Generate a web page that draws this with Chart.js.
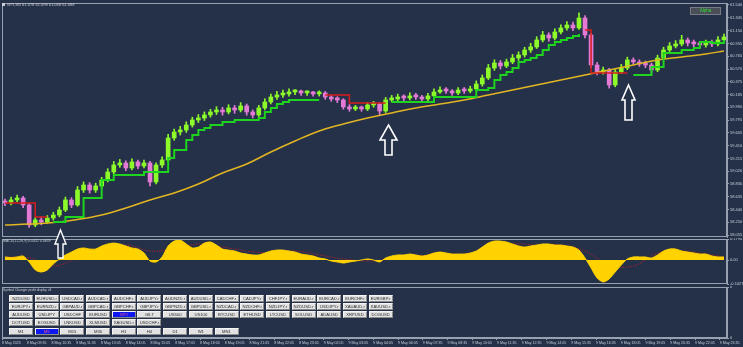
<!DOCTYPE html>
<html>
<head>
<meta charset="utf-8">
<script src="https://cdn.jsdelivr.net/npm/chart.js@4.4.1/dist/chart.umd.min.js"></script>
<style>
    html, body { margin: 0; padding: 0; background: #253149; }
    #wrap { position: relative; width: 743px; height: 347px; overflow: hidden; background: #253149; font-family: "Liberation Sans", Arial, sans-serif; }
    canvas { position: absolute; left: 0; }
    #priceChart { top: 0; }
    #macdChart { top: 238px; }
    #panelChart { top: 286px; }
    .lbl { position: absolute; color: #c9ced8; white-space: nowrap; }
    .icon { position: absolute; left: 2px; top: 3px; width: 3px; height: 3px; background: #c9ced8; }
    .alpha { position: absolute; left: 690px; top: 7px; width: 31px; height: 8px; box-sizing: border-box; background: #4a4e57; border: 1px solid #767b85; color: #33dd33; font-size: 4.5px; line-height: 6px; text-align: center; }
    .grid { position: absolute; left: 9px; display: grid; grid-template-columns: repeat(15, 24px); column-gap: 1.7px; row-gap: 1px; }
    .btn { height: 7px; box-sizing: border-box; background: #e2e2e2; border: 1px solid #8c8c8c; border-top-color: #f4f4f4; border-left-color: #f4f4f4; color: #2a2a2a; font-size: 4.2px; line-height: 5px; text-align: center; white-space: nowrap; overflow: hidden; }
    .btn.on { background: #0c18ee; color: #ff5a78; }
    svg.arrow { position: absolute; overflow: visible; }
</style>
</head>
<body>
<div id="wrap">
    <canvas id="priceChart" width="743" height="238"></canvas>
    <canvas id="macdChart" width="743" height="48"></canvas>
    <canvas id="panelChart" width="743" height="61"></canvas>

    <div class="icon"></div>
    <div class="lbl" style="left:7px; top:2px; font-size:4px;">WTI,M5 61.078 61.098 61.068 61.088</div>
    <div class="alpha">Alpha</div>
    <div class="lbl" style="left:3px; top:239px; font-size:3.5px;">MACD(12,26,9) 0.0452 0.0839</div>
    <div class="lbl" style="left:3px; top:288px; font-size:3.3px;">Symbol Changer profit display v3</div>

    <div class="grid" id="symbolGrid" style="top:295px;"></div>
    <div class="grid" id="periodGrid" style="top:328px;"></div>

    <svg class="arrow" style="left:55px; top:230px;" width="11" height="28">
        <polygon points="5.5,0 11,14 8,14 8,28 3,28 3,14 0,14" fill="#253149" stroke="#ffffff" stroke-width="1.4"/>
    </svg>
    <svg class="arrow" style="left:380px; top:125px;" width="17" height="30">
        <polygon points="8.5,0 17,15 12,15 12,30 5,30 5,15 0,15" fill="#253149" stroke="#ffffff" stroke-width="1.6"/>
    </svg>
    <svg class="arrow" style="left:622px; top:85px;" width="13" height="35">
        <polygon points="6.5,0 13,15 10,15 10,35 3,35 3,15 0,15" fill="#253149" stroke="#ffffff" stroke-width="1.6"/>
    </svg>
</div>

<script>

/* =========================
   DATA
========================= */

const firstOpen = 58.560;

const closes = [
    58.540, 58.586, 58.616, 58.510, 58.207, 58.283, 58.252, 58.313, 58.358, 58.434,
    58.586, 58.510, 58.737, 58.813, 58.737, 58.798, 58.889, 59.010, 59.116, 59.146,
    59.071, 59.162, 59.101, 59.146, 58.858, 59.116, 59.192, 59.525, 59.616, 59.646,
    59.722, 59.798, 59.828, 59.874, 59.919, 59.949, 59.919, 59.980, 59.949, 60.010,
    59.919, 59.874, 59.980, 60.071, 60.146, 60.177, 60.192, 60.222, 60.222, 60.207,
    60.207, 60.192, 60.207, 60.146, 60.116, 60.101, 59.995, 59.965, 59.980, 59.965,
    60.025, 60.040, 59.934, 60.101, 60.116, 60.146, 60.131, 60.162, 60.146, 60.116,
    60.162, 60.222, 60.252, 60.237, 60.207, 60.252, 60.237, 60.268, 60.343, 60.434,
    60.586, 60.662, 60.616, 60.677, 60.737, 60.783, 60.858, 60.904, 61.010, 61.086,
    61.040, 61.131, 61.192, 61.237, 61.192, 61.343, 61.086, 60.631, 60.525, 60.555,
    60.328, 60.525, 60.586, 60.707, 60.677, 60.646, 60.631, 60.555, 60.737, 60.858,
    60.919, 60.949, 61.010, 60.965, 60.949, 60.934, 60.965, 60.949, 61.010, 61.055
];

const highs = [
    58.600, 58.630, 58.660, 58.640, 58.530, 58.320, 58.330, 58.350, 58.400, 58.480,
    58.630, 58.620, 58.790, 58.860, 58.850, 58.840, 58.930, 59.060, 59.170, 59.200,
    59.180, 59.210, 59.190, 59.190, 59.170, 59.150, 59.240, 59.580, 59.660, 59.700,
    59.770, 59.840, 59.880, 59.920, 59.960, 60.000, 59.990, 60.030, 60.020, 60.060,
    60.040, 59.950, 60.020, 60.120, 60.190, 60.230, 60.250, 60.270, 60.260, 60.250,
    60.240, 60.230, 60.240, 60.230, 60.170, 60.150, 60.120, 60.030, 60.020, 60.010,
    60.060, 60.080, 60.060, 60.140, 60.170, 60.190, 60.180, 60.210, 60.200, 60.170,
    60.200, 60.270, 60.300, 60.290, 60.260, 60.290, 60.290, 60.310, 60.390, 60.480,
    60.640, 60.710, 60.700, 60.720, 60.790, 60.830, 60.900, 60.960, 61.060, 61.140,
    61.120, 61.180, 61.240, 61.290, 61.280, 61.420, 61.380, 61.110, 60.670, 60.600,
    60.580, 60.560, 60.640, 60.750, 60.740, 60.710, 60.690, 60.660, 60.780, 60.900,
    60.970, 61.000, 61.080, 61.040, 61.010, 60.990, 61.010, 61.010, 61.060, 61.100
];

const lows = [
    58.500, 58.510, 58.560, 58.470, 58.170, 58.180, 58.210, 58.230, 58.280, 58.330,
    58.410, 58.470, 58.490, 58.700, 58.690, 58.700, 58.770, 58.860, 58.980, 59.080,
    59.030, 59.040, 59.060, 59.070, 58.800, 58.830, 59.080, 59.170, 59.490, 59.570,
    59.610, 59.690, 59.760, 59.790, 59.840, 59.880, 59.870, 59.890, 59.900, 59.920,
    59.870, 59.830, 59.850, 59.950, 60.040, 60.110, 60.140, 60.160, 60.180, 60.170,
    60.170, 60.160, 60.160, 60.110, 60.080, 60.060, 59.960, 59.930, 59.940, 59.930,
    59.940, 59.990, 59.880, 59.910, 60.070, 60.090, 60.090, 60.100, 60.110, 60.080,
    60.090, 60.140, 60.200, 60.200, 60.170, 60.180, 60.200, 60.210, 60.240, 60.310,
    60.410, 60.550, 60.570, 60.590, 60.650, 60.700, 60.750, 60.820, 60.880, 60.980,
    60.990, 61.010, 61.100, 61.160, 61.150, 61.170, 61.040, 60.590, 60.480, 60.490,
    60.280, 60.300, 60.500, 60.560, 60.640, 60.610, 60.590, 60.510, 60.530, 60.710,
    60.830, 60.890, 60.920, 60.920, 60.900, 60.890, 60.900, 60.910, 60.920, 60.980
];

const trendUp = [
    null, null, null, null, null, null, null, null, 58.252, 58.252,
    58.328, 58.328, 58.328, 58.616, 58.616, 58.616, 58.889, 58.889, 58.965, 58.965,
    58.965, 58.965, 58.965, 59.010, 59.010, 59.010, 59.010, 59.222, 59.343, 59.343,
    59.495, 59.571, 59.646, 59.677, 59.722, 59.722, 59.768, 59.768, 59.798, 59.798,
    59.798, 59.798, 59.828, 59.919, 59.980, 60.040, 60.071, 60.101, 60.101, 60.101,
    60.101, 60.101, 60.101, null, null, null, null, null, null, null,
    null, null, null, null, 60.071, 60.071, 60.071, 60.071, 60.071, 60.071,
    60.071, 60.146, 60.146, 60.146, 60.146, 60.146, 60.146, 60.146, 60.252, 60.252,
    60.283, 60.404, 60.480, 60.525, 60.586, 60.677, 60.707, 60.737, 60.783, 60.858,
    60.934, 60.980, 61.010, 61.040, 61.071, 61.101, null, null, null, null,
    null, null, null, null, 60.480, 60.480, 60.480, 60.601, 60.601, 60.813,
    60.813, 60.813, 60.858, 60.858, 60.889, 60.980, 60.980, 60.965, 60.965, 61.010
];

const trendDown = [
    58.540, 58.540, 58.540, 58.540, 58.540, 58.328, 58.328, 58.328, null, null,
    null, null, null, null, null, null, null, null, null, null,
    null, null, null, null, null, null, null, null, null, null,
    null, null, null, null, null, null, null, null, null, null,
    null, null, null, null, null, null, null, null, null, null,
    null, null, null, 60.177, 60.177, 60.177, 60.177, 60.055, 60.055, 60.055,
    60.055, 60.055, 60.055, 60.055, null, null, null, null, null, null,
    null, null, null, null, null, null, null, null, null, null,
    null, null, null, null, null, null, null, null, null, null,
    null, null, null, null, null, null, 61.162, 60.510, 60.510, 60.510,
    60.510, 60.510, 60.510, 60.510, null, null, null, null, null, null,
    null, null, null, null, null, null, null, null, null, null
];

const maBars = [0, 4, 8, 12, 16, 20, 24, 28, 32, 36, 40, 44, 48, 52, 56, 60,
                64, 68, 72, 76, 80, 84, 88, 92, 96, 100, 104, 108, 112, 116, 119];
const maValues = [
    58.207, 58.222, 58.245, 58.290, 58.358, 58.464, 58.586, 58.692, 58.828, 58.995,
    59.131, 59.313, 59.480, 59.631, 59.737, 59.828, 59.904, 59.980, 60.040, 60.101,
    60.177, 60.252, 60.328, 60.404, 60.480, 60.555, 60.631, 60.707, 60.752, 60.798, 60.843
];

const macdHist = [
    0.026, 0.021, 0.026, 0.034, -0.017, -0.085, -0.103, -0.085, -0.034, 0.009,
    0.043, 0.068, 0.094, 0.103, 0.094, 0.094, 0.120, 0.137, 0.145, 0.137,
    0.120, 0.103, 0.094, 0.060, -0.009, -0.017, 0.026, 0.120, 0.162, 0.171,
    0.137, 0.103, 0.111, 0.145, 0.154, 0.128, 0.094, 0.085, 0.077, 0.060,
    0.051, 0.043, 0.043, 0.060, 0.077, 0.085, 0.085, 0.077, 0.068, 0.051,
    0.043, 0.034, 0.017, 0.009, -0.009, -0.017, -0.026, -0.017, -0.009, 0.000,
    0.009, 0.000, -0.017, 0.017, 0.034, 0.043, 0.043, 0.051, 0.043, 0.034,
    0.043, 0.060, 0.068, 0.060, 0.051, 0.051, 0.051, 0.060, 0.077, 0.111,
    0.145, 0.162, 0.162, 0.154, 0.137, 0.120, 0.111, 0.120, 0.128, 0.137,
    0.137, 0.128, 0.128, 0.120, 0.111, 0.085, 0.017, -0.068, -0.154, -0.188,
    -0.162, -0.103, -0.043, 0.009, 0.026, 0.026, 0.026, 0.017, 0.043, 0.077,
    0.094, 0.094, 0.077, 0.068, 0.060, 0.051, 0.051, 0.034, 0.026, 0.026
];

const signalBars = [0, 4, 8, 12, 16, 20, 24, 28, 32, 36, 40, 44, 48, 52, 56, 60,
                    64, 68, 72, 76, 80, 84, 88, 92, 96, 100, 104, 108, 112, 116, 119];
const signalValues = [
    0.026, 0.017, -0.051, 0.017, 0.085, 0.128, 0.077, 0.094, 0.137, 0.111,
    0.077, 0.060, 0.077, 0.043, 0.009, -0.009, 0.009, 0.034, 0.043, 0.051,
    0.085, 0.137, 0.128, 0.128, 0.077, -0.043, -0.051, 0.060, 0.077, 0.051, 0.026
];

const priceTicks = [
    61.540, 61.345, 61.150, 60.955, 60.765, 60.570, 60.375, 60.185, 59.990, 59.795,
    59.605, 59.410, 59.215, 59.020, 58.830, 58.635, 58.440, 58.250, 58.055
];

const macdTickLabels = ["0.1794", "0.00", "-0.1027"];

const timeLabels = [
    "8 May 2025", "8 May 09:35", "8 May 10:35", "8 May 11:35", "8 May 13:05",
    "8 May 14:05", "8 May 15:05", "8 May 17:05", "8 May 18:05", "8 May 19:05",
    "8 May 21:05", "8 May 22:05", "8 May 23:05", "9 May 02:05", "9 May 03:05",
    "9 May 04:05", "9 May 06:05", "9 May 07:35", "9 May 08:35", "9 May 10:05",
    "9 May 11:35", "9 May 12:35", "9 May 14:05", "9 May 15:35", "9 May 16:35",
    "9 May 18:05", "9 May 19:05", "9 May 20:35", "9 May 22:05", "9 May 23:35"
];

const symbols = [
    "NZDUSD", "EURUSD.r", "USDCAD.r", "AUDCAD.r", "AUDCHF.r", "AUDJPY.r", "AUDNZD.r", "AUDUSD.r",
    "CADCHF.r", "CADJPY.r", "CHFJPY.r", "EURAUD.r", "EURCAD.r", "EURCHF.r", "EURGBP.r",
    "EURJPY.r", "EURNZD.r", "GBPAUD.r", "GBPCAD.r", "GBPCHF.r", "GBPJPY.r", "GBPNZD.r", "GBPUSD.r",
    "NZDCAD.r", "NZDCHF.r", "NZDJPY.r", "NZDUSD.r", "USDJPY.r", "XAUAUD.r", "XAUUSD.r",
    "AUDUSD", "USDJPY", "USDCHF", "EURUSD", "WTI", "GILT", "US500", "US100",
    "BTCUSD", "ETHUSD", "LTCUSD", "SOLUSD", "ADAUSD", "XRPUSD", "DOGUSD",
    "DOTUSD", "EOSUSD", "LNKUSD", "XLMUSD", "XAGUSD.r", "USDCHF.r"
];

const periods = ["M1", "M5", "M15", "M30", "H1", "H4", "D1", "W1", "MN1"];

const activeSymbol = "WTI";
const activePeriod = "M5";


/* =========================
   STYLE
========================= */

const UP = "#8dfa2a";
const DOWN = "#e47ad6";
const AXIS = "#98a1b0";

Chart.defaults.font.family = "'Liberation Sans', Arial, sans-serif";
Chart.defaults.font.size = 4;
Chart.defaults.color = "#c9ced8";

const panelFrame = {
    id: "panelFrame",
    afterDraw(chart) {
        const { ctx, chartArea: a } = chart;
        ctx.save();
        ctx.strokeStyle = AXIS;
        ctx.lineWidth = 1;
        ctx.strokeRect(a.left + 0.5, a.top + 0.5, a.right - a.left - 1, a.bottom - a.top - 1);
        ctx.restore();
    }
};

function rightAxis(extra) {
    return Object.assign({
        position: "right",
        afterFit: s => {
            s.width = 16;
            s.paddingTop = 0;
            s.paddingBottom = 0;
        },
        grid: { drawOnChartArea: false, drawTicks: true, tickLength: 2, color: AXIS },
        border: { display: true, color: AXIS }
    }, extra);
}

function barAxis() {
    return { type: "linear", min: -0.5, max: 119.5, offset: false, display: false };
}


/* =========================
   PRICE PANEL
========================= */

const opens = closes.map((c, i) => i === 0 ? firstOpen : closes[i - 1]);
const candleColors = closes.map((c, i) => c >= opens[i] ? UP : DOWN);

new Chart(document.getElementById("priceChart"), {

    type: "bar",

    data: {
        datasets: [
            {
                type: "line",
                data: trendUp.map((v, i) => ({ x: i, y: v })),
                borderColor: "#1ed41e",
                borderWidth: 2,
                pointRadius: 0,
                stepped: true,
                spanGaps: false,
                order: 1
            },
            {
                type: "line",
                data: trendDown.map((v, i) => ({ x: i, y: v })),
                borderColor: "#d81c1c",
                borderWidth: 1.5,
                pointRadius: 0,
                stepped: true,
                spanGaps: false,
                order: 1
            },
            {
                type: "line",
                data: maBars.map((b, k) => ({ x: b, y: maValues[k] })),
                borderColor: "#e2b522",
                borderWidth: 1.5,
                pointRadius: 0,
                tension: 0.4,
                order: 2
            },
            {
                type: "bar",
                data: closes.map((c, i) => ({ x: i, y: [opens[i], c] })),
                backgroundColor: candleColors,
                barThickness: 4,
                minBarLength: 2,
                grouped: false,
                order: 3
            },
            {
                type: "bar",
                data: closes.map((c, i) => ({ x: i, y: [lows[i], highs[i]] })),
                backgroundColor: candleColors,
                barThickness: 1,
                grouped: false,
                order: 4
            }
        ]
    },

    options: {
        responsive: false,
        animation: false,
        layout: { padding: { left: 2, top: 3, bottom: 1, right: 0 } },
        plugins: { legend: { display: false }, tooltip: { enabled: false } },
        scales: {
            x: barAxis(),
            y: rightAxis({
                min: 58.025,
                max: 61.570,
                afterBuildTicks: s => { s.ticks = priceTicks.map(v => ({ value: v })); },
                ticks: { autoSkip: false, padding: 1, callback: v => v.toFixed(3) }
            })
        }
    },

    plugins: [panelFrame]

});


/* =========================
   MACD PANEL
========================= */

new Chart(document.getElementById("macdChart"), {

    type: "line",

    data: {
        datasets: [
            {
                data: macdHist.map((v, i) => ({ x: i, y: v })),
                borderColor: "#ffd200",
                backgroundColor: "#ffd200",
                borderWidth: 1,
                pointRadius: 0,
                tension: 0.25,
                fill: "origin"
            },
            {
                data: signalBars.map((b, k) => ({ x: b, y: signalValues[k] })),
                borderColor: "#c8202c",
                borderWidth: 1,
                borderDash: [1, 1.5],
                pointRadius: 0,
                tension: 0.4
            }
        ]
    },

    options: {
        responsive: false,
        animation: false,
        layout: { padding: { left: 2, top: 1, bottom: 2, right: 0 } },
        plugins: { legend: { display: false }, tooltip: { enabled: false } },
        scales: {
            x: barAxis(),
            y: rightAxis({
                min: -0.2057,
                max: 0.18,
                afterBuildTicks: s => { s.ticks = [{ value: 0.18 }, { value: 0 }, { value: -0.2057 }]; },
                ticks: { autoSkip: false, padding: 1, callback: (v, i) => macdTickLabels[i] }
            })
        }
    },

    plugins: [panelFrame]

});


/* =========================
   SYMBOL PANEL + TIME AXIS
========================= */

new Chart(document.getElementById("panelChart"), {

    type: "line",

    data: { datasets: [{ data: [] }] },

    options: {
        responsive: false,
        animation: false,
        layout: { padding: { left: 2, top: 1, bottom: 0, right: 0 } },
        plugins: { legend: { display: false }, tooltip: { enabled: false } },
        scales: {
            x: {
                type: "linear",
                position: "bottom",
                min: 0,
                max: 725 / 24.75,
                offset: false,
                afterBuildTicks: s => { s.ticks = timeLabels.map((t, k) => ({ value: k })); },
                afterFit: s => {
                    s.height = 9;
                    s.paddingLeft = 0;
                    s.paddingRight = 0;
                },
                ticks: {
                    autoSkip: false,
                    maxRotation: 0,
                    minRotation: 0,
                    align: "start",
                    padding: 1,
                    font: { size: 3.6 },
                    callback: (v, i) => timeLabels[i]
                },
                grid: { drawOnChartArea: false, drawTicks: true, tickLength: 2, color: AXIS },
                border: { display: true, color: AXIS }
            },
            y: rightAxis({
                min: 0,
                max: 1,
                afterBuildTicks: s => { s.ticks = [{ value: 1 }, { value: 0 }]; },
                ticks: { autoSkip: false, padding: 1, callback: () => "0" }
            })
        }
    },

    plugins: [panelFrame]

});


/* =========================
   BUTTONS
========================= */

function fillButtons(id, names, active) {

    const box = document.getElementById(id);

    names.forEach(name => {

        const b = document.createElement("div");
        b.className = "btn" + (name === active ? " on" : "");
        b.textContent = name;
        box.appendChild(b);

    });

}

fillButtons("symbolGrid", symbols, activeSymbol);
fillButtons("periodGrid", periods, activePeriod);

</script>
</body>
</html>
